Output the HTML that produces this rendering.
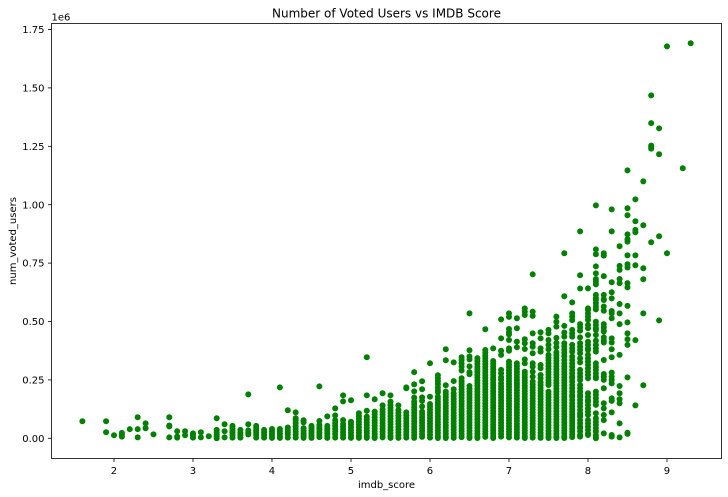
<!DOCTYPE html>
<html lang="en">
<head>
<meta charset="utf-8">
<title>Number of Voted Users vs IMDB Score</title>
<style>
html,body{margin:0;padding:0;background:#fff;}
body{width:728px;height:497px;overflow:hidden;}
svg{display:block;}
text{font-family:"DejaVu Sans","Liberation Sans",sans-serif;fill:#000;}
</style>
</head>
<body>
<svg id="chart" xmlns="http://www.w3.org/2000/svg" width="728" height="497" viewBox="0 0 728 497">
  <rect x="0" y="0" width="728" height="497" fill="#ffffff"/>
  <g id="points"></g>
  <rect x="51.5" y="23.5" width="670" height="435" fill="none" stroke="#000" stroke-width="0.8"/>
  <g id="x-axis"></g>
  <g id="y-axis"></g>
  <text x="386.5" y="17.5" font-size="12" text-anchor="middle">Number of Voted Users vs IMDB Score</text>
  <text x="386.5" y="488" font-size="10" text-anchor="middle">imdb_score</text>
  <text x="0" y="0" font-size="10" text-anchor="middle" transform="translate(16 241) rotate(-90)">num_voted_users</text>
  <text x="51.5" y="20.5" font-size="10">1e6</text>
</svg>
<script>
const xTickValues = [2, 3, 4, 5, 6, 7, 8, 9];
const yTickValues = [0, 0.25, 0.5, 0.75, 1, 1.25, 1.5, 1.75];
const yTickLabels = ["0.00", "0.25", "0.50", "0.75", "1.00", "1.25", "1.50", "1.75"];
const xDomain = [1.209, 9.69];
const yDomain = [-0.0865, 1.7757];
const imdbScores = [1.6,1.9,2.0,2.1,2.2,2.3,2.4,2.5,2.7,2.8,2.9,3.0,3.1,3.2,3.3,3.4,3.5,3.6,3.7,3.8,3.9,4.0,4.1,4.2,4.3,4.4,4.5,4.6,4.7,4.8,4.9,5.0,5.1,5.2,5.3,5.4,5.5,5.6,5.7,5.8,5.9,6.0,6.1,6.2,6.3,6.4,6.5,6.6,6.7,6.8,6.9,7.0,7.1,7.2,7.3,7.4,7.5,7.6,7.7,7.8,7.9,8.0,8.1,8.2,8.3,8.4,8.5,8.6,8.7,8.8,8.9,9.0,9.2,9.3];
const votedUsersThousands = [
[73],
[73,26],
[13],
[23,17,7],
[39],
[90,39,4],
[64,43],
[17],
[90,55,51,4],
[30,7,3],
[30,13],
[21,13,3],
[26,4],
[9],
[86,36,26,16,7,0],
[60,30,4],
[53,43,33,24,14,3],
[36,24,14,3],
[188,60,34,24,16],
[53,43,33,24,14,3],
[36,26,14,3],
[40,30,20,10,2],
[218,40,30,20,10,2],
[120,46,36,26,16,3],
[111,86,78,65,52,40,28,16,3],
[77,68,43,33,22,12,2],
[53,43,33,22,12,2],
[222,74,57,47,37,26,16,5],
[94,53,43,33,22,12,2],
[128,98,77,65,53,41,29,17,3],
[184,158,78,61,50,38,26,14,3],
[163,71,60,48,36,24,12,2],
[107,95,83,71,59,47,35,23,11,2],
[347,184,118,93,81,69,57,45,33,21,9,2],
[167,114,102,90,78,66,54,42,30,18,6,1],
[193,141,124,112,100,88,76,64,52,40,28,16,4],
[184,157,143,131,119,107,95,83,71,59,47,35,23,11,2],
[141,121,109,97,85,73,61,49,37,25,13,2],
[218,214,111,99,87,75,63,51,39,27,15,3],
[283,231,201,174,157,145,133,121,109,97,85,73,61,49,37,25,13,2],
[244,210,175,160,136,114,102,90,78,66,54,42,30,18,6],
[321,178,147,135,123,111,99,87,75,63,51,39,27,15,3],
[270,257,245,232,218,205,197,178,166,154,142,130,118,106,94,82,70,58,46,34,22,10,1],
[381,334,227,200,188,176,164,152,140,128,116,104,92,80,68,56,44,32,20,8,1],
[325,245,210,193,181,169,157,145,133,121,109,97,85,73,61,49,37,25,13,2],
[347,335,320,307,290,257,245,233,221,209,197,185,173,161,149,137,125,113,101,89,77,65,53,41,29,17,5],
[535,377,350,338,308,283,274,224,212,200,188,176,164,152,140,128,116,104,92,80,68,56,44,32,20,8,1],
[343,331,319,307,295,285,272,260,248,236,224,212,200,188,176,164,152,140,128,116,104,92,80,68,56,44,32,20,8,1],
[467,378,366,354,342,330,318,306,294,282,270,258,246,234,222,210,198,186,174,162,150,138,126,114,102,90,78,66,54,42,30,18,6],
[385,331,319,307,295,283,271,259,250,238,226,214,202,190,178,166,154,142,130,118,106,94,82,70,58,46,34,22,10,1],
[509,428,375,357,293,278,262,250,235,223,211,199,187,175,163,151,139,127,115,103,91,79,67,55,43,31,19,7],
[535,520,468,454,445,421,385,375,328,316,304,292,280,268,256,244,232,220,208,196,184,172,160,148,136,124,112,100,88,76,64,52,40,28,16,4],
[514,471,414,390,321,309,297,285,273,261,249,237,228,218,206,194,182,170,158,146,134,122,110,98,86,74,62,50,38,26,14,3],
[556,542,528,424,407,382,338,321,285,273,261,249,237,225,213,201,189,177,165,153,141,129,117,105,93,81,69,57,45,33,21,9,1],
[702,542,524,449,407,392,364,321,307,285,264,243,231,219,207,195,183,171,159,147,135,123,111,99,87,75,63,51,39,27,15,3],
[454,428,385,371,314,300,271,257,240,228,216,204,192,180,168,156,144,132,120,108,96,84,72,60,48,36,24,12,2],
[464,449,421,400,381,357,345,333,321,309,297,285,273,261,249,237,228,200,188,176,164,152,140,128,116,104,92,80,68,56,44,32,20,8,1],
[521,499,478,430,408,390,368,356,344,332,320,308,296,284,272,260,248,236,224,212,200,188,176,164,152,140,128,116,104,92,80,68,56,44,32,20,8,1],
[792,608,481,453,435,407,393,379,365,351,335,321,309,297,285,273,261,249,237,225,213,201,189,177,165,153,141,129,117,105,93,81,69,57,45,33,21,9,1],
[582,535,521,506,464,449,435,400,385,371,350,335,321,307,292,278,264,257,243,228,214,200,186,178,164,150,137,125,113,101,89,77,65,53,41,29,17,5],
[886,698,641,489,475,461,432,407,392,378,364,342,325,293,278,264,250,228,214,200,186,178,164,150,136,121,107,100,93,78,64,50,43,29,14,7],
[642,556,549,535,521,507,485,471,442,414,400,385,378,357,342,328,314,300,285,271,257,193,178,164,157,143,128,114,100,78,64,50,36,21,14],
[997,809,788,736,706,682,671,659,614,600,592,578,564,552,499,485,471,464,442,418,400,385,371,321,307,293,278,264,257,200,186,171,157,143,107,86,71,57,43,29,14,4,0],
[792,782,694,614,595,592,564,546,489,475,461,457,432,418,410,335,275,264,250,214,150,128,100,78,21],
[980,886,668,625,599,545,535,514,428,410,381,347,281,264,250,235,171,160,111,14,7],
[822,738,721,682,664,575,535,489,357,224,193,167,150,64,4],
[1147,985,955,873,852,842,783,745,731,664,646,567,496,449,424,400,261,24,19],
[1023,929,892,882,783,741,420,141],
[1100,912,728,681,535,227],
[1468,1349,1253,1247,1240,839],
[1327,1216,865,505],
[1678,792],
[1156],
[1691]
];

const plotLeft = 51.5, plotRight = 721.5, plotTop = 23.5, plotBottom = 458.5;
const svgNS = "http://www.w3.org/2000/svg";
function scaleX(score) {
  return plotLeft + (score - xDomain[0]) / (xDomain[1] - xDomain[0]) * (plotRight - plotLeft);
}
function scaleY(millions) {
  return plotBottom - (millions - yDomain[0]) / (yDomain[1] - yDomain[0]) * (plotBottom - plotTop);
}
function makeSvg(tag, attrs) {
  const el = document.createElementNS(svgNS, tag);
  for (const key in attrs) el.setAttribute(key, attrs[key]);
  return el;
}
const pointsGroup = document.getElementById("points");
imdbScores.forEach(function (score, i) {
  votedUsersThousands[i].forEach(function (votes) {
    const dot = makeSvg("circle", { cx: scaleX(score), cy: scaleY(votes / 1000), r: 3, fill: "#008000" });
    
    
    pointsGroup.appendChild(dot);
  });
});
const xAxisGroup = document.getElementById("x-axis");
xTickValues.forEach(function (value) {
  const px = scaleX(value);
  const tick = makeSvg("line", { x1: px, x2: px, y1: plotBottom, y2: plotBottom + 3.5, stroke: "#000", "stroke-width": 0.8 });
  
  
  xAxisGroup.appendChild(tick);
  const label = makeSvg("text", { x: px, y: plotBottom + 15.5, "font-size": 10, "text-anchor": "middle" });
  
  
  label.textContent = String(value);
  xAxisGroup.appendChild(label);
});
const yAxisGroup = document.getElementById("y-axis");
yTickValues.forEach(function (value, i) {
  const py = scaleY(value);
  const tick = makeSvg("line", { x1: plotLeft - 3.5, x2: plotLeft, y1: py, y2: py, stroke: "#000", "stroke-width": 0.8 });
  
  
  yAxisGroup.appendChild(tick);
  const label = makeSvg("text", { x: plotLeft - 7, y: py + 3.6, "font-size": 10, "text-anchor": "end" });
  
  
  label.textContent = yTickLabels[i];
  yAxisGroup.appendChild(label);
});
</script>
</body>
</html>
